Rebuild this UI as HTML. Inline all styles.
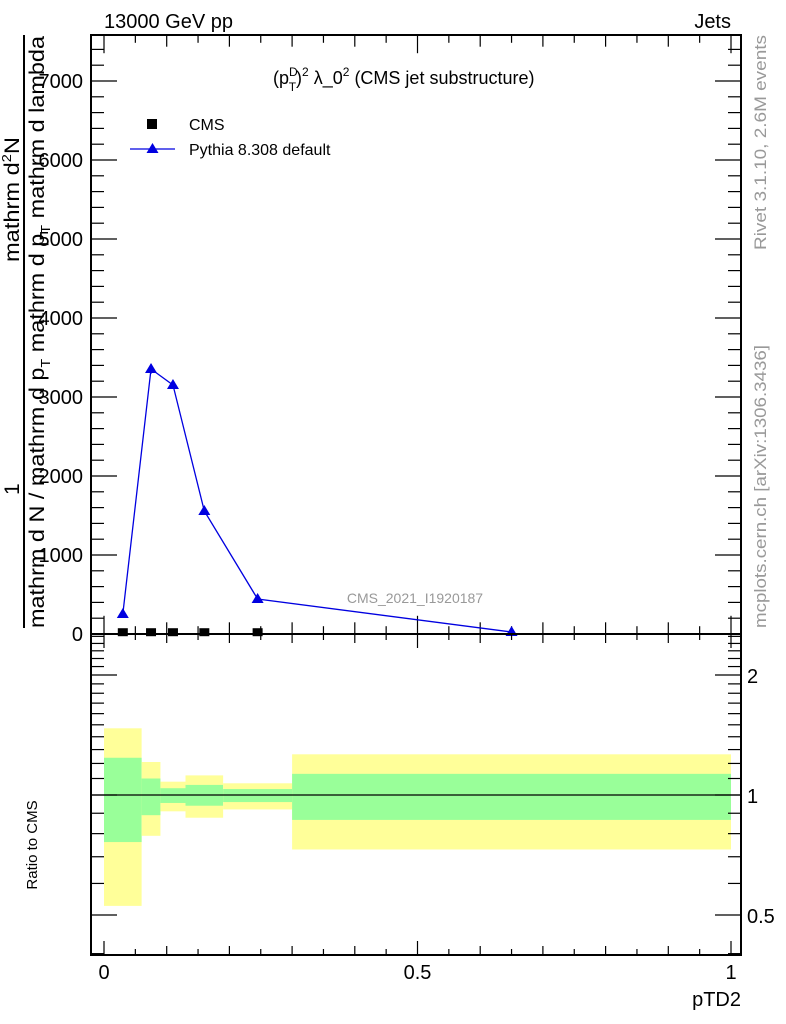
<!DOCTYPE html>
<html><head><meta charset="utf-8"><style>
body{margin:0;background:#fff;}
svg{display:block;font-family:"Liberation Sans",sans-serif;}
</style></head><body>
<svg id="c" width="786" height="1024" viewBox="0 0 786 1024">
<text x="104" y="28" font-size="20">13000 GeV pp</text>
<text x="731" y="28" font-size="20" text-anchor="end">Jets</text>
<text x="273" y="84" font-size="18">(p<tspan font-size="12" dy="-8">D</tspan><tspan font-size="12" dx="-9" dy="15">T</tspan><tspan dy="-7">)</tspan><tspan font-size="12" dy="-8">2</tspan><tspan dy="8"> λ_0</tspan><tspan font-size="12" dy="-8">2</tspan><tspan dy="8"> (CMS jet substructure)</tspan></text>
<text x="415" y="603" font-size="14" fill="#999" text-anchor="middle">CMS_2021_I1920187</text>
<g>
<rect x="147" y="119" width="10" height="10" fill="#000"/>
<text x="189" y="130" font-size="16">CMS</text>
<line x1="130" y1="149" x2="175" y2="149" stroke="#0000e0" stroke-width="1.3"/>
<polygon points="152.5,143 146.5,153 158.5,153" fill="#0000e0"/>
<text x="189" y="155" font-size="16">Pythia 8.308 default</text>
</g>
<g font-size="17" fill="#999">
<text transform="translate(766,250) rotate(-90)" textLength="215" lengthAdjust="spacingAndGlyphs">Rivet 3.1.10,  2.6M events</text>
<text transform="translate(766,628) rotate(-90)" textLength="283" lengthAdjust="spacingAndGlyphs">mcplots.cern.ch [arXiv:1306.3436]</text>
</g>
<g font-size="21">
<text transform="translate(19,262) rotate(-90)" textLength="125" lengthAdjust="spacingAndGlyphs">mathrm d<tspan font-size="13" dy="-8">2</tspan><tspan dy="8">N</tspan></text>
<line x1="24" y1="35" x2="24" y2="628" stroke="#000" stroke-width="2"/>
<text transform="translate(19,495) rotate(-90)">1</text>
<text transform="translate(44,628) rotate(-90)" textLength="592" lengthAdjust="spacingAndGlyphs">mathrm d N / mathrm d p<tspan font-size="13" dy="6">T</tspan><tspan dy="-6"> mathrm d p</tspan><tspan font-size="13" dy="6">T</tspan><tspan dy="-6"> mathrm d lambda</tspan></text>
</g>
<text x="741" y="1006" font-size="20" text-anchor="end">pTD2</text>
<text transform="translate(37,845) rotate(-90)" font-size="15" text-anchor="middle">Ratio to CMS</text>
<g id="main"></g>
<g id="ratio"></g>
</svg>
<script>
const binEdges=[0,0.06,0.09,0.13,0.19,0.30,1.0];
const xCenters=[0.03,0.075,0.11,0.16,0.245,0.65];
const pythiaVals=[253,3354,3152,1557,443,25];
const pythiaErr=[0,60,50,20,10,5];
const cmsVals=[10,10,10,10,10,10];
const yellowHi=[1.47,1.21,1.08,1.12,1.07,1.265];
const yellowLo=[0.527,0.79,0.91,0.877,0.92,0.73];
const greenHi=[1.24,1.10,1.04,1.06,1.035,1.13];
const greenLo=[0.762,0.89,0.955,0.94,0.96,0.866];
const mainTicks=[0,1000,2000,3000,4000,5000,6000,7000];
const ratioTicks=[0.5,1,2];
const xTicks=[0,0.5,1];

const NS="http://www.w3.org/2000/svg";
const L=91,R=741,T=35,MB=634,RB=955;
const X=v=>104+v*627;
const Y=v=>634-v*0.079;
const RY=v=>795-120*Math.log2(v);
function mk(p,tag,a){const e=document.createElementNS(NS,tag);for(const k in a)e.setAttribute(k,a[k]);p.appendChild(e);return e;}
const main=document.getElementById('main'),ratio=document.getElementById('ratio');

for(let i=0;i<binEdges.length-1;i++){
 const x0=X(binEdges[i]),x1=X(binEdges[i+1]);
 const y=mk(ratio,'rect',{x:x0,y:RY(yellowHi[i]),width:x1-x0,height:RY(yellowLo[i])-RY(yellowHi[i]),fill:'#ffff99'});
 
 
 const g=mk(ratio,'rect',{x:x0,y:RY(greenHi[i]),width:x1-x0,height:RY(greenLo[i])-RY(greenHi[i]),fill:'#99ff99'});
 
 
}
const one=mk(ratio,'line',{x1:L,x2:R,y1:RY(1),y2:RY(1),stroke:'#000','stroke-width':1.3});



const f1=mk(main,'rect',{x:L,y:T,width:R-L,height:MB-T,fill:'none',stroke:'#000','stroke-width':2});


const f2=mk(ratio,'rect',{x:L,y:MB,width:R-L,height:RB-MB,fill:'none',stroke:'#000','stroke-width':2});



for(let v=0;v<=7400;v+=200){
 const maj=v%1000===0,len=maj?26:13,y=Y(v);
 mk(main,'line',{x1:L,x2:L+len,y1:y,y2:y,stroke:'#000','stroke-width':1.2});
 mk(main,'line',{x1:R,x2:R-len,y1:y,y2:y,stroke:'#000','stroke-width':1.2});
}
mainTicks.forEach(v=>{const t=mk(main,'text',{x:83,y:Y(v)+7,'font-size':20,'text-anchor':'end'});t.textContent=v;
 
 });
const rmin=[];for(let v=0.4;v<=0.95;v+=0.1)rmin.push(v);for(let v=1.0;v<=2.55;v+=0.1)rmin.push(v);
rmin.forEach(v=>{const y=RY(v);if(y<MB||y>RB)return;const maj=ratioTicks.some(t=>Math.abs(t-v)<1e-6);const len=maj?26:13;
 mk(ratio,'line',{x1:L,x2:L+len,y1:y,y2:y,stroke:'#000','stroke-width':1.2});
 mk(ratio,'line',{x1:R,x2:R-len,y1:y,y2:y,stroke:'#000','stroke-width':1.2});});
ratioTicks.forEach(v=>{const t=mk(ratio,'text',{x:747,y:RY(v)+8,'font-size':20});t.textContent=v;
 
 });
for(let i=0;i<=20;i++){const v=i*0.05,x=X(v),maj=i%10===0,len=maj?14:(i%2===0?9:6);
 mk(main,'line',{x1:x,x2:x,y1:MB,y2:MB-len*1.3,stroke:'#000','stroke-width':1.2});
 mk(main,'line',{x1:x,x2:x,y1:T,y2:T+len*1.3,stroke:'#000','stroke-width':1.2});
 mk(ratio,'line',{x1:x,x2:x,y1:RB,y2:RB-len,stroke:'#000','stroke-width':1.2});
 mk(ratio,'line',{x1:x,x2:x,y1:MB,y2:MB+len,stroke:'#000','stroke-width':1.2});}
xTicks.forEach(v=>{const t=mk(ratio,'text',{x:X(v),y:979,'font-size':20,'text-anchor':'middle'});t.textContent=v;
 
 });

const pl=mk(main,'polyline',{points:xCenters.map((x,i)=>X(x)+','+Y(pythiaVals[i])).join(' '),fill:'none',stroke:'#0000e0','stroke-width':1.3});


xCenters.forEach((x,i)=>{const cx=X(x),cy=Y(pythiaVals[i]);
 if(pythiaErr[i]>0)mk(main,'line',{x1:cx,x2:cx,y1:Y(pythiaVals[i]+pythiaErr[i]),y2:Y(pythiaVals[i]-pythiaErr[i]),stroke:'#0000e0','stroke-width':1.3});
 const m=mk(main,'polygon',{points:`${cx},${cy-6} ${cx-6},${cy+4} ${cx+6},${cy+4}`,fill:'#0000e0'});
 
 });
xCenters.slice(0,5).forEach((x,i)=>{const cx=X(x),cy=Y(cmsVals[i]);
 const m=mk(main,'rect',{x:cx-5,y:cy-5,width:10,height:8,fill:'#000'});
 
 });
</script>
</body></html>
